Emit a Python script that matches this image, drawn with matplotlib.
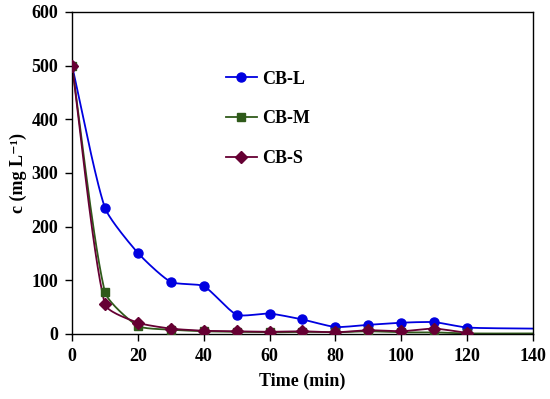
import numpy as np
import matplotlib
matplotlib.use("Agg")
import matplotlib.pyplot as plt

# ---- data ----
t = [0, 10, 20, 30, 40, 50, 60, 70, 80, 90, 100, 110, 120]
cb_l = [500, 235, 151, 97, 89, 36, 38, 27, 13, 17, 21, 22, 12]
cb_m = [500, 78, 15, 8, 5, 4, 3, 4, 3, 5, 3, 3, 1]
cb_s = [500, 55, 21, 10, 6, 5, 4, 5, 3, 7, 5, 10, 2]
# unmarked line tails out to 140 min
tail_t = [120, 140]
tail_l = [12, 10]
tail_m = [1, 1]

x_ticks = [0, 20, 40, 60, 80, 100, 120, 140]
y_ticks = [0, 100, 200, 300, 400, 500, 600]

plt.rcParams['font.family'] = ['Liberation Serif', 'DejaVu Serif']
plt.rcParams['font.weight'] = 'bold'

XMAX, YMAX = 140.0, 600.0
W_PX, H_PX = 461.0, 322.0


def smooth(x, y, n=30, f=0.2):
    """Spreadsheet-style smoothed line: cubic Bezier segments whose handles
    follow the neighbour direction, scaled by each segment's length."""
    P = np.column_stack([np.asarray(x, float) / XMAX * W_PX,
                         np.asarray(y, float) / YMAX * H_PX])
    m = len(P)
    if m < 3:
        return np.asarray(x, float), np.asarray(y, float)
    D = np.zeros_like(P)
    for i in range(m):
        if i == 0:
            v = P[1] - P[0]
        elif i == m - 1:
            v = P[-1] - P[-2]
        else:
            v = P[i + 1] - P[i - 1]
        D[i] = v / np.linalg.norm(v)
    out = []
    s = np.linspace(0, 1, n, endpoint=False)[:, None]
    for i in range(m - 1):
        L = np.linalg.norm(P[i + 1] - P[i])
        c1 = P[i] + D[i] * L * f
        c2 = P[i + 1] - D[i + 1] * L * f
        seg = ((1 - s) ** 3) * P[i] + 3 * ((1 - s) ** 2) * s * c1 + 3 * (1 - s) * s ** 2 * c2 + s ** 3 * P[i + 1]
        out.append(seg)
    out.append(P[-1:])
    out = np.vstack(out)
    return out[:, 0] * XMAX / W_PX, out[:, 1] * YMAX / H_PX


fig = plt.figure(figsize=(5.5, 3.99), dpi=100)
ax = fig.add_axes([0.131, 0.163, 0.838, 0.807])

blue = '#0000E0'
green = '#2F5A1A'
maroon = '#660033'
lw = 1.3

for tt, yy, tail, col in [(t, cb_l, tail_l, blue), (t, cb_m, tail_m, green), (t, cb_s, None, maroon)]:
    if tail is not None:
        xs, ys = smooth(list(tt) + tail_t[1:], list(yy) + tail[1:])
    else:
        xs, ys = smooth(tt, yy)
    ax.plot(xs, ys, color=col, lw=lw, zorder=2)

ax.plot(t, cb_l, 'o', color=blue, ms=6.5, zorder=3)
ax.plot(t, cb_m, 's', color=green, ms=5.8, zorder=3)
ax.plot(t, cb_s, 'D', color=maroon, ms=6, zorder=4)

hl, = ax.plot([], [], '-o', color=blue, ms=6.5, lw=lw, label='CB-L')
hm, = ax.plot([], [], '-s', color=green, ms=5.8, lw=lw, label='CB-M')
hs, = ax.plot([], [], '-D', color=maroon, ms=6, lw=lw, label='CB-S')
leg = ax.legend(handles=[hl, hm, hs], loc='upper left', bbox_to_anchor=(0.318, 0.84),
                frameon=False, fontsize=13, labelspacing=1.25, handlelength=1.7,
                handletextpad=0.3, borderaxespad=0)
for txt in leg.get_texts():
    txt.set_fontweight('bold')

ax.set_xlim(0, 140)
ax.set_ylim(0, 600)
ax.set_xticks(x_ticks)
ax.set_yticks(y_ticks)
ax.tick_params(direction='out', length=5, width=1, labelsize=13, pad=5)
for lbl in ax.get_xticklabels() + ax.get_yticklabels():
    lbl.set_fontweight('bold')
for sp in ax.spines.values():
    sp.set_linewidth(1)
    sp.set_color('black')

ax.set_xlabel('Time (min)', fontsize=13, fontweight='bold', labelpad=6)
ax.set_ylabel('c (mg L\u207b\u00b9)', fontsize=13, fontweight='bold', labelpad=3)

fig.savefig('out.png', dpi=100)
